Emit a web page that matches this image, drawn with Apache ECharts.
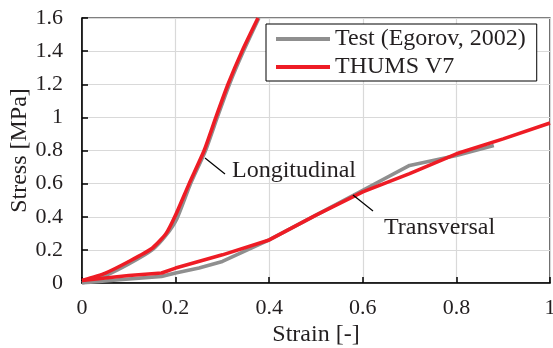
<!DOCTYPE html>
<html>
<head>
<meta charset="utf-8">
<script src="https://cdn.jsdelivr.net/npm/echarts@6/dist/echarts.min.js"></script>
<style>
  html, body { margin: 0; padding: 0; background: #fff; }
  #chart { width: 553px; height: 348px; }
</style>
</head>
<body>
<div id="chart"></div>
<script>
// Stress-strain curves: test data vs. THUMS V7 model, [strain, stress MPa]
const testLongitudinal = [
  [0, 0], [0.05, 0.045], [0.1, 0.115], [0.15, 0.2], [0.18, 0.29],
  [0.203, 0.39], [0.232, 0.6], [0.264, 0.8], [0.289, 1.0], [0.315, 1.2],
  [0.345, 1.4], [0.378, 1.6]
];
const testTransversal = [
  [0, 0], [0.08, 0.02], [0.17, 0.04], [0.2, 0.06], [0.25, 0.09],
  [0.3, 0.13], [0.4, 0.26], [0.5, 0.41], [0.6, 0.56], [0.7, 0.71],
  [0.8, 0.77], [0.88, 0.83]
];
const thumsLongitudinal = [
  [0, 0.015], [0.05, 0.06], [0.1, 0.13], [0.15, 0.21], [0.18, 0.3],
  [0.2, 0.41], [0.229, 0.6], [0.261, 0.8], [0.286, 1.0], [0.312, 1.2],
  [0.342, 1.4], [0.376, 1.6]
];
const thumsTransversal = [
  [0, 0.015], [0.05, 0.03], [0.1, 0.045], [0.17, 0.06], [0.2, 0.09],
  [0.3, 0.17], [0.4, 0.26], [0.5, 0.41], [0.6, 0.55], [0.7, 0.66],
  [0.8, 0.78], [0.9, 0.87], [1.0, 0.966]
];
const seriesNames = ['Test (Egorov, 2002)', 'THUMS V7'];
const xTitle = 'Strain [-]';
const yTitle = 'Stress [MPa]';

const GRAY = '#8f8f8f';
const RED = '#ee1c25';
const INK = '#231f20';
const FONT = '"Liberation Serif", "Times New Roman", serif';

const chart = echarts.init(document.getElementById('chart'), null, { renderer: 'canvas' });

function lineSeries(name, data, color, smooth) {
  return {
    name: name,
    type: 'line',
    data: data,
    smooth: smooth,
    showSymbol: false,
    symbol: 'none',
    lineStyle: { color: color, width: 3.6 },
    itemStyle: { color: color },
    animation: false
  };
}

chart.setOption({
  backgroundColor: '#fff',
  textStyle: { fontFamily: FONT },
  grid: {
    left: 82, right: 3, top: 18, bottom: 65,
    containLabel: false,
    outerBoundsMode: 'none',
    show: true, borderColor: '#000', borderWidth: 1.2, backgroundColor: 'transparent'
  },
  legend: {
    orient: 'vertical',
    left: 266, top: 24,
    padding: [3, 11, 2, 10],
    itemGap: 4,
    itemWidth: 54, itemHeight: 24,
    borderColor: '#000', borderWidth: 1,
    borderRadius: 0,
    backgroundColor: '#fff',
    icon: 'path://M0,10 L54,10 L54,14 L0,14 Z',
    textStyle: { fontFamily: FONT, fontSize: 24, color: INK, padding: [0, 0, 0, 0] },
    data: seriesNames
  },
  xAxis: {
    type: 'value', min: 0, max: 1, interval: 0.2,
    name: xTitle, nameLocation: 'middle', nameGap: 40, nameMoveOverlap: false,
    nameTextStyle: { fontFamily: FONT, fontSize: 24, color: INK },
    axisLine: { lineStyle: { color: '#000', width: 1.5 } },
    axisTick: { inside: true, length: 6, lineStyle: { color: '#000', width: 1.5 } },
    axisLabel: { fontFamily: FONT, fontSize: 22, color: INK, margin: 14 },
    splitLine: { show: true, lineStyle: { color: '#d9d9d9', width: 1.2 } }
  },
  yAxis: {
    type: 'value', min: 0, max: 1.6, interval: 0.2,
    name: yTitle, nameLocation: 'middle', nameGap: 50, nameMoveOverlap: false,
    nameTextStyle: { fontFamily: FONT, fontSize: 24, color: INK },
    axisLine: { lineStyle: { color: '#000', width: 1.5 } },
    axisTick: { inside: true, length: 6, lineStyle: { color: '#000', width: 1.5 } },
    axisLabel: { fontFamily: FONT, fontSize: 22, color: INK, margin: 19 },
    splitLine: { show: true, lineStyle: { color: '#d9d9d9', width: 1.2 } }
  },
  series: [
    lineSeries(seriesNames[0], testLongitudinal, GRAY, 0.2),
    lineSeries(seriesNames[0], testTransversal, GRAY, false),
    lineSeries(seriesNames[1], thumsLongitudinal, RED, 0.2),
    lineSeries(seriesNames[1], thumsTransversal, RED, false)
  ],
  graphic: [
    { type: 'line', shape: { x1: 205, y1: 158, x2: 225, y2: 174 },
      style: { stroke: '#000', lineWidth: 1.3 }, z: 100 },
    { type: 'text', left: 232, top: 159,
      style: { text: 'Longitudinal', font: '24px ' + FONT, fill: INK }, z: 100 },
    { type: 'line', shape: { x1: 353, y1: 195, x2: 373, y2: 211 },
      style: { stroke: '#000', lineWidth: 1.3 }, z: 100 },
    { type: 'text', left: 384, top: 216,
      style: { text: 'Transversal', font: '24px ' + FONT, fill: INK }, z: 100 }
  ]
});
</script>
</body>
</html>
